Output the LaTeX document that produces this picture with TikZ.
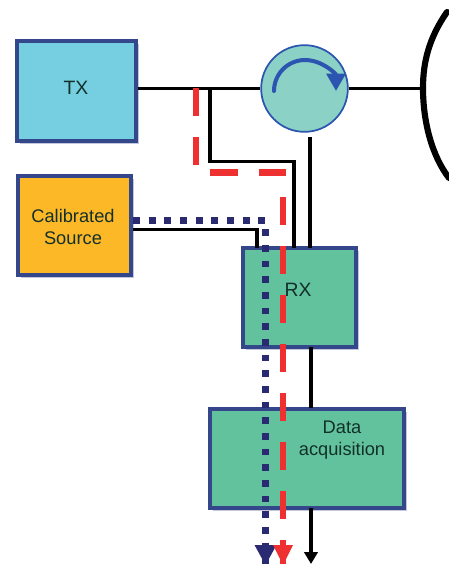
\documentclass[tikz,border=0pt]{standalone}
\usepackage{fontspec}
\setmainfont{Liberation Sans}
\usetikzlibrary{arrows.meta,shadows}
\definecolor{boxline}{HTML}{34478A}
\definecolor{circline}{HTML}{2B55B0}
\definecolor{txfill}{HTML}{75CFE0}
\definecolor{srcfill}{HTML}{FDB827}
\definecolor{rxfill}{HTML}{62C29E}
\definecolor{circfill}{HTML}{8CD1C5}
\definecolor{dotblue}{HTML}{2A2A72}
\definecolor{dashred}{HTML}{EE3030}
\definecolor{boxtext}{HTML}{12302A}
\tikzset{
  unitbox/.style={draw=boxline,line width=3pt,drop shadow={shadow xshift=2pt,shadow yshift=-2pt,fill=boxline,opacity=0.3}},
  sigline/.style={line width=2.4pt,black},
  calpath/.style={line width=5.2pt,dotblue,dash pattern=on 5.2pt off 6.55pt},
  txpath/.style={line width=4.9pt,dashred,dash pattern=on 21pt off 15.75pt}
}
\begin{document}
\begin{tikzpicture}[x=0.75pt,y=-0.75pt,every node/.style={font=\fontsize{13.7pt}{16.5pt}\selectfont,text=boxtext}]
\useasboundingbox (0,0) rectangle (449,564);
% boxes
\node[unitbox,fill=txfill,minimum width=89.25pt,minimum height=75pt] (tx) at (76.5,91) {};
\node[unitbox,fill=srcfill,minimum width=84.75pt,minimum height=74.25pt] (source) at (74.5,225.5) {};
\node[unitbox,fill=rxfill,minimum width=84.75pt,minimum height=74.25pt] (rx) at (299.5,297.5) {};
\node[unitbox,fill=rxfill,minimum width=145.5pt,minimum height=74.25pt] (daq) at (307,458.5) {};
\node[draw=circline,line width=1.3pt,fill=circfill,circle,minimum size=65pt,inner sep=0pt] (circ) at (304.5,88.5) {};
% labels
\node[font=\fontsize{14.5pt}{16.5pt}\selectfont] (txlabel) at (76,88) {TX};
\node[align=center] (sourcelabel) at (73,227) {Calibrated\\Source};
\node[font=\fontsize{14.5pt}{16.5pt}\selectfont] (rxlabel) at (298,290) {RX};
\node[align=center] (daqlabel) at (342,440) {Data\\acquisition};
% arrow inside circulator
\draw[circline,line width=3pt,line cap=round,-{Triangle[length=13pt,width=14pt]}] (274,91) arc[start angle=180,end angle=360,radius=31];
% free ends of connectors
\coordinate (tap) at (210,88.5);
\coordinate (bend) at (294,161.5);
\coordinate (rxleft) at (294,248);
\coordinate (circout) at (310,137);
\coordinate (rxright) at (310,248);
\coordinate (srcbend) at (257,229.7);
\coordinate (rxcal) at (257,248);
\coordinate (dish) at (426,88.5);
\coordinate (daqtop) at (311,408);
\coordinate (rxbottom) at (311,347);
\coordinate (daqbottom) at (311,508);
\coordinate (blackend) at (311,564);
% black signal lines
\draw[sigline] (tx.east |- circ.west) -- (circ.west);
\draw[sigline] (circ.east) -- (dish);
\draw[sigline] (tap) |- (bend) -- (rxleft);
\draw[sigline] (circout) -- (rxright);
\draw[sigline] (source.east |- srcbend) -- (srcbend) -- (rxcal);
\draw[sigline] (rxbottom) -- (daqtop);
\draw[sigline,-{Triangle[length=9pt,width=10pt]}] (daqbottom) -- (blackend);
% reflector
\draw[line width=4.6pt,line cap=round] (447,12) .. controls (429,38) and (423,62) .. (423,88) .. controls (423,122) and (432,156) .. (449,178);
% calibration path and tx leakage path
\coordinate (calstart) at (133,220.7);
\coordinate (calbend) at (265.5,220.7);
\coordinate (calend) at (265.5,565);
\draw[calpath] (calstart) -- (calbend) -- (calend);
\fill[dotblue] (calend) -- ++(-11,-20) -- ++(22,0) -- cycle;
\coordinate (leakstart) at (196,88);
\coordinate (leakbend) at (196,172.3);
\coordinate (leakmid) at (283,172.3);
\coordinate (leakend) at (283,565);
\draw[txpath] (leakstart) -- (leakbend) -- (leakmid) -- (leakend);
\fill[dashred] (leakend) -- ++(-10,-20) -- ++(20,0) -- cycle;
\end{tikzpicture}
\end{document}
